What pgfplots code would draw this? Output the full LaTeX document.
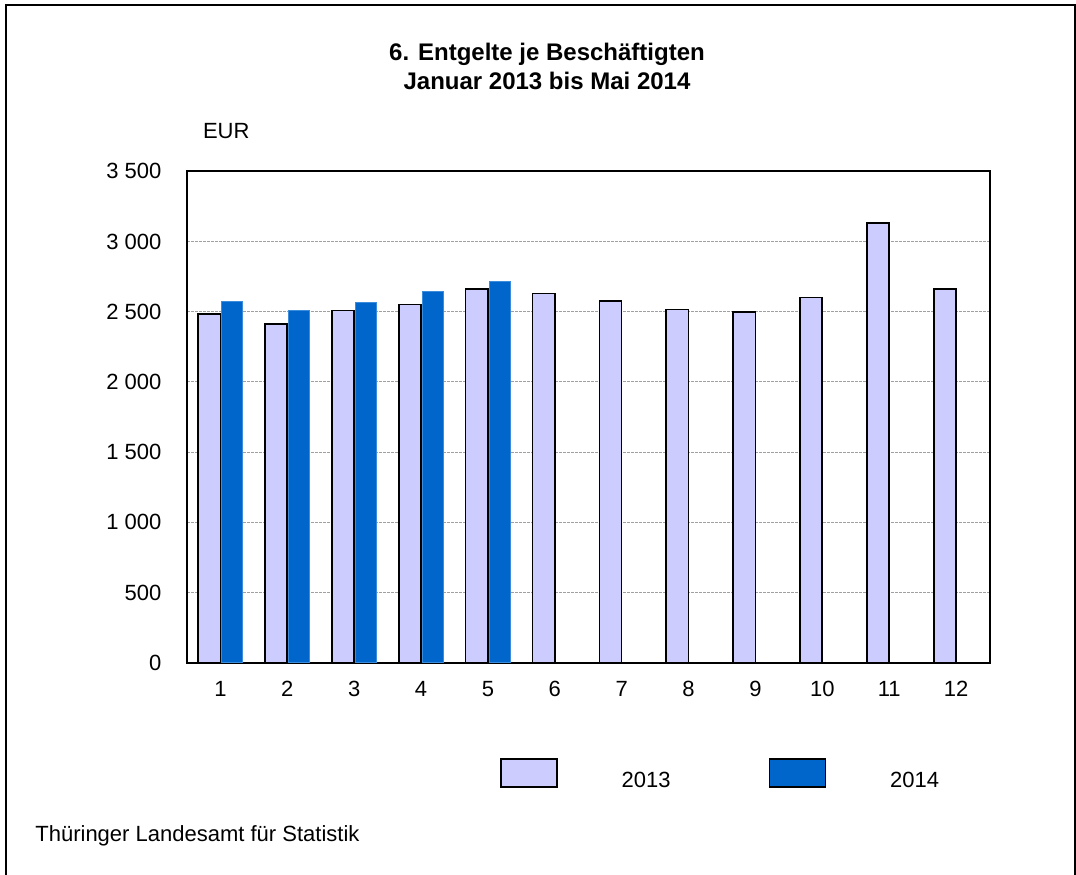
\documentclass[border=0pt]{standalone}
\usepackage{fontspec}
\setmainfont{Liberation Sans}
\usepackage{pgfplots}
\pgfplotsset{compat=1.18}

\definecolor{c2013}{RGB}{204,204,255}
\definecolor{c2014}{RGB}{0,102,204}
\definecolor{c2014edge}{RGB}{60,140,220}
\definecolor{gridgray}{RGB}{160,160,160}

\begin{document}
\begin{tikzpicture}[font=\fontsize{11}{13}\selectfont]
% page = 1076 x 874 px at 0.5pt per px
\useasboundingbox (0pt,0pt) rectangle (538pt,-437pt);
% outer frame (no bottom edge)
\draw[line width=1pt] (3.1pt,-440pt) -- (3.1pt,-2.5pt) -- (537.5pt,-2.5pt) -- (537.5pt,-440pt);

\node[anchor=base, inner sep=0pt, font=\fontsize{12}{14}\selectfont\bfseries] at (273.5pt,-30pt) {6. Entgelte je Beschäftigten};
\node[anchor=base, inner sep=0pt, font=\fontsize{12}{14}\selectfont\bfseries] at (273.5pt,-44.5pt) {Januar 2013 bis Mai 2014};
\node[anchor=base west, inner sep=0pt] at (101.3pt,-69pt) {EUR};
\node[anchor=base west, inner sep=0pt] at (17.5pt,-420.5pt) {Thüringer Landesamt für Statistik};

\begin{axis}[
  at={(93.5pt,-331.35pt)}, anchor=south west,
  scale only axis,
  width=401.25pt, height=245.75pt,
  ybar=0pt, bar width=11.15pt,
  xmin=0.5, xmax=12.5,
  ymin=0, ymax=3500,
  xtick={1,...,12},
  ytick={0,500,...,3500},
  scaled y ticks=false,
  major tick length=0pt,
  axis line style={line width=1pt},
  ymajorgrids,
  grid style={gridgray, line width=0.5pt, dash pattern=on 1.5pt off 0.5pt},
  /pgf/number format/.cd, 1000 sep={\ }, assume math mode=true, /pgfplots/.cd,
  yticklabel style={anchor=east, xshift=-9.3pt},
  xticklabel style={anchor=north, yshift=-5.8pt},
  legend columns=2,
  legend image code/.code={\draw[#1, draw=black, line width=0.8pt] (0pt,0pt) rectangle (28pt,14pt);},
  legend style={at={(0.390,-0.259)}, anchor=south west, draw=none,
    inner sep=0pt, outer sep=0pt, column sep=32pt,
    nodes={inner sep=0pt, anchor=base west},
    /tikz/every even column/.append style={column sep=49pt}},
]
\addplot[fill=c2013, draw=black, line width=0.8pt, bar shift=-5.6pt] coordinates {
  (1,2485) (2,2411) (3,2507) (4,2552) (5,2661) (6,2630)
  (7,2575) (8,2514) (9,2498) (10,2602) (11,3131) (12,2661)};
\addplot[fill=c2014, draw=c2014edge, line width=0.4pt, bar width=10.6pt, bar shift=5.9pt] coordinates {
  (1,2573) (2,2509) (3,2566) (4,2642) (5,2713)};
\legend{2013, 2014}
\end{axis}
\end{tikzpicture}
\end{document}
